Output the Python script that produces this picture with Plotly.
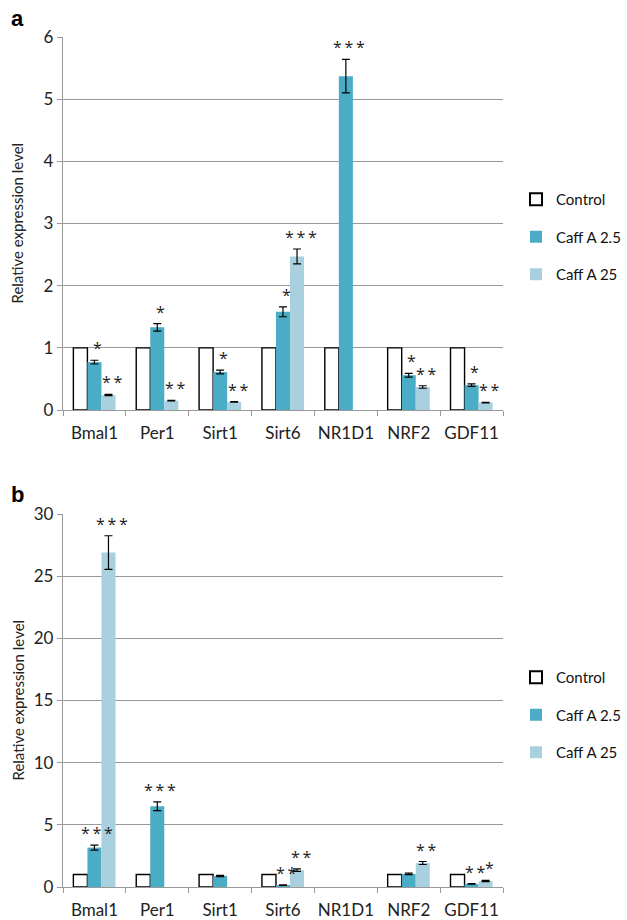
import plotly.graph_objects as go
from plotly.subplots import make_subplots

categories = ["Bmal1", "Per1", "Sirt1", "Sirt6", "NR1D1", "NRF2", "GDF11"]
series_names = ["Control", "Caff A 2.5", "Caff A 25"]

# Panel a
a_control = [1, 1, 1, 1, 1, 1, 1]
a_caff25 = [0.77, 1.33, 0.61, 1.58, 5.37, 0.56, 0.40]
a_caff250 = [0.24, 0.15, 0.13, 2.47, None, 0.37, 0.12]
a_err25 = [0.03, 0.06, 0.03, 0.08, 0.27, 0.03, 0.02]
a_err250 = [0.01, 0.005, 0.005, 0.12, 0, 0.02, 0.005]
a_stars25 = ["*", "*", "*", "*", "***", "*", "*"]
a_stars250 = ["**", "**", "**", "***", "", "**", "**"]

# Panel b
b_control = [1, 1, 1, 1, None, 1, 1]
b_caff25 = [3.17, 6.5, 0.89, 0.15, None, 1.05, 0.25]
b_caff250 = [26.9, None, None, 1.35, None, 1.93, 0.48]
b_err25 = [0.2, 0.35, 0.05, 0.03, 0, 0.06, 0.03]
b_err250 = [1.35, 0, 0, 0.1, 0, 0.12, 0.05]
b_stars25 = ["***", "***", "", "**", "", "", "**"]
b_stars250 = ["***", "", "", "**", "", "**", "*"]

c_ctrl = "white"
c_25 = "#4BACC6"
c_250 = "#A9D0DF"

fig = make_subplots(rows=2, cols=1, vertical_spacing=0.1)

def add_panel(row, ctrl, v25, v250, e25, e250, legend):
    fig.add_trace(go.Bar(x=categories, y=ctrl, name=series_names[0],
                         marker=dict(color=c_ctrl, line=dict(color="black", width=1.4)),
                         legend=legend, legendgroup=legend + "c"), row=row, col=1)
    fig.add_trace(go.Bar(x=categories, y=v25, name=series_names[1],
                         marker=dict(color=c_25, line=dict(width=0)),
                         error_y=dict(type="data", array=e25, color="black", thickness=1.2, width=4),
                         legend=legend, legendgroup=legend + "b"), row=row, col=1)
    fig.add_trace(go.Bar(x=categories, y=v250, name=series_names[2],
                         marker=dict(color=c_250, line=dict(width=0)),
                         error_y=dict(type="data", array=e250, color="black", thickness=1.2, width=4),
                         legend=legend, legendgroup=legend + "a"), row=row, col=1)

add_panel(1, a_control, a_caff25, a_caff250, a_err25, a_err250, "legend")
add_panel(2, b_control, b_caff25, b_caff250, b_err25, b_err250, "legend2")

font_family = "Lato, Open Sans, sans-serif"
star_family = "Open Sans, Liberation Sans, sans-serif"
bar_px = 14.6

def add_stars(row, vals, errs, stars, offset):
    yref = "y" if row == 1 else "y2"
    xref = "x" if row == 1 else "x2"
    for c, v, e, s in zip(categories, vals, errs, stars):
        if not s or v is None:
            continue
        fig.add_annotation(x=c, y=v + (e or 0), xref=xref, yref=yref, text="\u2009".join(s),
                           showarrow=False, xshift=offset * bar_px + 3, yanchor="bottom",
                           yshift=-1, font=dict(size=16, color="#222", family=star_family))

add_stars(1, a_caff25, a_err25, a_stars25, 0)
add_stars(1, a_caff250, a_err250, a_stars250, 1)
add_stars(2, b_caff25, b_err25, b_stars25, 0)
add_stars(2, b_caff250, b_err250, b_stars250, 1)

axis_common = dict(showline=True, linecolor="#999", linewidth=1.3, ticks="outside",
                   tickcolor="#999", ticklen=5, automargin=False,
                   tickfont=dict(size=17, color="#222", family=font_family))

fig.update_xaxes(**axis_common, tickson="boundaries", tickangle=0, ticklabelstandoff=7, domain=[0, 1])
fig.update_yaxes(**axis_common, showgrid=True, gridcolor="#999", gridwidth=1.2, zeroline=False)
fig.update_yaxes(range=[0, 6], dtick=1, domain=[1 - 410 / 920, 1 - 37 / 920], row=1, col=1)
fig.update_yaxes(range=[0, 30], dtick=5, domain=[1 - 887 / 920, 1 - 514 / 920], row=2, col=1)

legend_common = dict(x=(516 - 63) / 440, xanchor="left", yanchor="middle", traceorder="grouped",
                     tracegroupgap=15, font=dict(size=15, color="#111", family=font_family),
                     bgcolor="rgba(0,0,0,0)", itemsizing="constant")
fig.update_layout(
    width=627, height=920,
    margin=dict(l=63, r=124, t=0, b=0, autoexpand=False),
    paper_bgcolor="white", plot_bgcolor="white",
    barmode="group", bargap=0.33, bargroupgap=0,
    font=dict(family=font_family, color="#222"),
    legend=dict(**legend_common, y=1 - 237 / 920),
    legend2=dict(**legend_common, y=1 - 715 / 920),
    showlegend=True,
)

# y-axis titles
for ymid in [(37 + 410) / 2, (514 + 887) / 2]:
    fig.add_annotation(text="Relative expression level", x=-46 / 440, y=1 - ymid / 920,
                       xref="paper", yref="paper", textangle=-90, showarrow=False,
                       xanchor="center", yanchor="middle",
                       font=dict(size=15, color="#222", family=font_family))

fig.add_annotation(text="<b>a</b>", x=-63 / 440 + 9 / 440, y=1 - 18 / 920, xref="paper", yref="paper",
                   showarrow=False, xanchor="left", yanchor="middle", font=dict(size=22, color="black", family="Liberation Sans"))
fig.add_annotation(text="<b>b</b>", x=-63 / 440 + 9 / 440, y=1 - 494 / 920, xref="paper", yref="paper",
                   showarrow=False, xanchor="left", yanchor="middle", font=dict(size=22, color="black", family="Liberation Sans"))

fig.write_html("out.html")
